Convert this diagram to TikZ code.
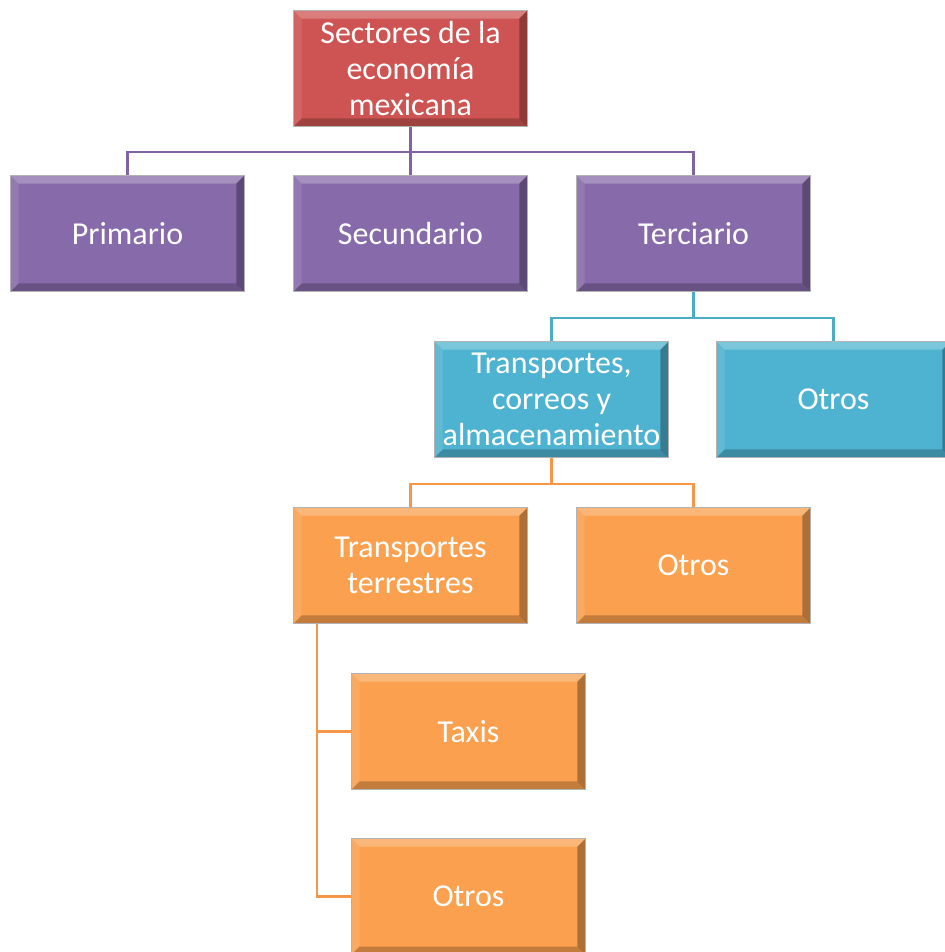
\documentclass[tikz,border=0pt]{standalone}
\usepackage{fontspec}
\setmainfont{Carlito}
\definecolor{rootred}{RGB}{205,84,82}
\definecolor{sectpurple}{RGB}{134,106,170}
\definecolor{servcyan}{RGB}{78,179,208}
\definecolor{transorange}{RGB}{250,160,78}
\definecolor{linepurple}{RGB}{128,100,162}
\definecolor{linecyan}{RGB}{75,172,198}
\definecolor{lineorange}{RGB}{247,150,70}
\begin{document}
\begin{tikzpicture}[
  x=0.02cm, y=-0.02cm,
  font=\fontsize{18.2}{20.3}\selectfont,
  box/.style={
    fill=#1,
    draw=black!30,
    line width=0.6pt,
    text=white,
    minimum width=4.68cm,
    minimum height=2.32cm,
    align=center,
    path picture={
      \fill[white,opacity=0.25]
        (path picture bounding box.north west) -- (path picture bounding box.north east)
        -- ([shift={(-8,8)}]path picture bounding box.north east)
        -- ([shift={(8,8)}]path picture bounding box.north west) -- cycle;
      \fill[black,opacity=0.30]
        (path picture bounding box.north east) -- (path picture bounding box.south east)
        -- ([shift={(-8,-8)}]path picture bounding box.south east)
        -- ([shift={(-8,8)}]path picture bounding box.north east) -- cycle;
      \fill[black,opacity=0.22]
        (path picture bounding box.south west) -- (path picture bounding box.south east)
        -- ([shift={(-8,-8)}]path picture bounding box.south east)
        -- ([shift={(8,-8)}]path picture bounding box.south west) -- cycle;
      \fill[white,opacity=0.10]
        (path picture bounding box.north west) -- (path picture bounding box.south west)
        -- ([shift={(8,-8)}]path picture bounding box.south west)
        -- ([shift={(8,8)}]path picture bounding box.north west) -- cycle;
    }
  },
  link/.style={draw=#1, line width=1.6pt}
]

\useasboundingbox (0,0) rectangle (945,952);

% top
\node[box=rootred] (root) at (410.5,68.5) {Sectores de la\\economía\\mexicana};

% sectors
\node[box=sectpurple] (prim) at (127.5,233.5) {Primario};
\node[box=sectpurple] (secu) at (410.5,233.5) {Secundario};
\node[box=sectpurple] (terc) at (693.5,233.5) {Terciario};

\draw[link=linepurple] (root.south) -- ++(0,25) -| (prim.north);
\draw[link=linepurple] (root.south) -- (secu.north);
\draw[link=linepurple] (root.south) -- ++(0,25) -| (terc.north);

% tertiary
\node[box=servcyan] (trans) at (551.5,399.5) {Transportes,\\correos y\\almacenamiento};
\node[box=servcyan] (otrosA) at (833.5,399.5) {Otros};

\draw[link=linecyan] (terc.south) -- ++(0,26) -| (trans.north);
\draw[link=linecyan] (terc.south) -- ++(0,26) -| (otrosA.north);

% transport
\node[box=transorange] (terr) at (410.5,565.5) {Transportes\\terrestres};
\node[box=transorange] (otrosB) at (693.5,565.5) {Otros};

\draw[link=lineorange] (trans.south) -- ++(0,26) -| (terr.north);
\draw[link=lineorange] (trans.south) -- ++(0,26) -| (otrosB.north);

% land transport
\node[box=transorange] (taxis) at (468.5,731.5) {Taxis};
\node[box=transorange] (otrosC) at (468.5,896.5) {Otros};

\draw[link=lineorange] ([shift={(24,0)}]terr.south west) |- (taxis.west);
\draw[link=lineorange] ([shift={(24,0)}]terr.south west) |- (otrosC.west);

\end{tikzpicture}
\end{document}
